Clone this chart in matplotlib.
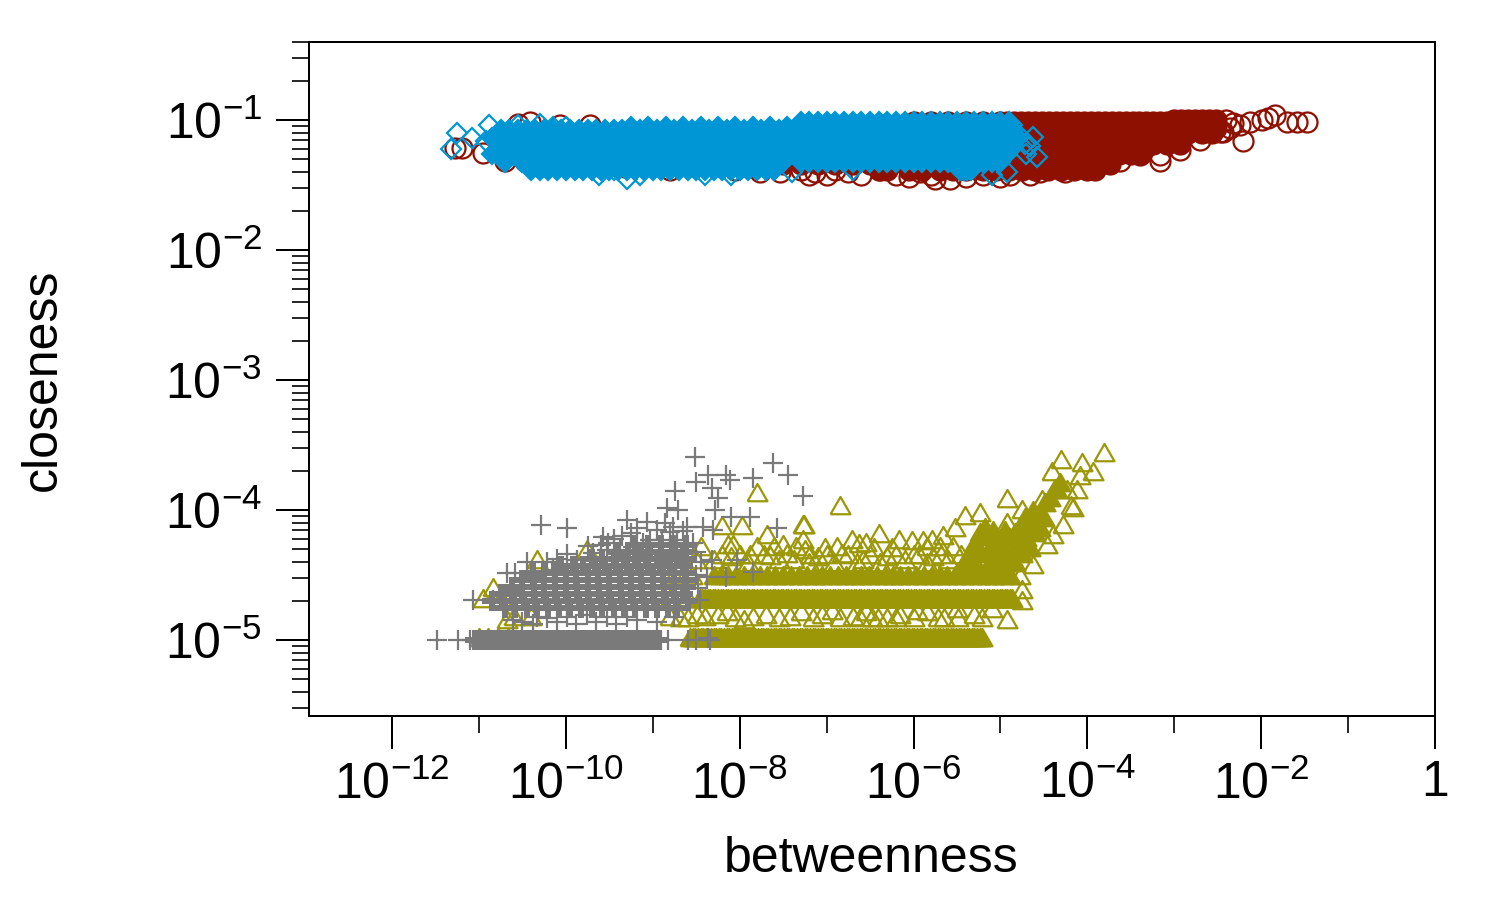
import matplotlib
matplotlib.use("Agg")
import numpy as np
import matplotlib.pyplot as plt

plt.rcParams['font.family'] = ['Liberation Sans', 'DejaVu Sans']
plt.rcParams['mathtext.fontset'] = 'custom'
plt.rcParams['mathtext.rm'] = 'Liberation Sans'
plt.rcParams['mathtext.default'] = 'rm'

# All values are log10(betweenness) and log10(closeness).
RED = '#8E1000'; BLUE = '#0096D6'; OLIVE = '#9C9706'; GRAY = '#7A7A7A'

x_ticks = [-12, -10, -8, -6, -4, -2, 0]
x_tick_labels = ['$10^{-12}$', '$10^{-10}$', '$10^{-8}$', '$10^{-6}$', '$10^{-4}$', '$10^{-2}$', '1']
x_minor = [-11, -9, -7, -5, -3, -1]
y_ticks = [-5, -4, -3, -2, -1]
y_tick_labels = ['$10^{-5}$', '$10^{-4}$', '$10^{-3}$', '$10^{-2}$', '$10^{-1}$']

# dense regions of overlapping marks, listed row by row: (closeness, betweenness values)
red_dense = [
 (-1.015, [-6.0,-5.8,-5.6,-5.4,-5.2,-5.0,-4.92,-4.84,-4.76,-4.68,-4.6,-4.52,-4.44,-4.36,-4.28,-4.2,-4.12,-4.04,-3.96,-3.88,-3.8,-3.72,-3.64,-3.56,-3.48,-3.4,-3.32,-3.24,-3.16,-3.08]),
 (-1.00, [-3.0,-2.92,-2.84,-2.76,-2.68,-2.6,-2.52]),
 (-1.06, [-4.9,-4.75,-4.6,-4.45,-4.3,-4.15,-4.0,-3.85,-3.7,-3.55,-3.4,-3.25,-3.1,-2.95,-2.8,-2.65,-2.52]),
 (-1.10, [-6.0,-5.8,-5.6,-5.4,-5.2,-4.92,-4.76,-4.6,-4.44,-4.28,-4.12,-3.96,-3.8,-3.64,-3.48,-3.32,-3.16,-3.0,-2.84,-2.68,-2.56]),
 (-1.18, [-6.0,-5.8,-5.6,-5.4,-5.2,-5.0,-4.84,-4.68,-4.52,-4.36,-4.2,-4.04,-3.88,-3.72,-3.56,-3.4,-3.24,-3.08,-2.93]),
 (-1.26, [-6.0,-5.8,-5.6,-5.4,-5.2,-4.92,-4.76,-4.6,-4.44,-4.28,-4.12,-3.96,-3.8,-3.64,-3.5,-3.39]),
 (-1.34, [-7.5,-7.3,-7.1,-6.9,-6.7,-6.5,-6.3,-6.1,-5.9,-5.7,-5.5,-5.3,-5.1,-5.0,-4.84,-4.68,-4.52,-4.36,-4.2,-4.05,-3.9,-3.74]),
 (-1.38, [-6.4,-6.3,-6.05,-5.9,-5.7,-5.55,-5.4,-5.2,-5.05,-4.9,-4.75,-4.6,-4.45,-4.3,-4.15,-4.0,-3.91]),
]
red_pts = [(-1.47,-1.015),(-1.585,-1.015),(-1.70,-1.015),(-1.84,-0.96),(-1.92,-0.985),(-1.99,-1.0),(-2.13,-1.015),(-2.24,-1.04),(-2.32,-1.02),(-2.40,-1.00),(-2.36,-1.06),(-2.44,-1.09),
 (-2.21,-1.16),(-2.47,-1.09),(-2.70,-1.15),(-2.93,-1.23),(-3.16,-1.27),(-3.16,-1.31),(-3.39,-1.27),(-3.62,-1.31),(-3.80,-1.33),
 (-3.97,-1.35),(-4.08,-1.37),(-4.26,-1.40),(-4.54,-1.40),(-4.66,-1.42),(-4.89,-1.42),(-5.58,-1.45),(-5.75,-1.45),
 (-11.27,-1.215),(-11.19,-1.215),(-10.95,-1.25),(-10.70,-1.31),(-10.47,-1.31),(-10.55,-1.03),(-10.41,-1.015),(-10.07,-1.04),(-9.72,-1.04),
 (-9.32,-1.36),(-8.80,-1.385),(-8.05,-1.385),(-7.88,-1.35),(-7.77,-1.40),(-7.54,-1.40),(-7.30,-1.385),(-7.13,-1.40),(-6.90,-1.385),
 (-6.38,-1.385),(-5.92,-1.40),(-7.20,-1.42),(-7.00,-1.42),(-6.75,-1.40),(-6.60,-1.42),(-6.20,-1.42),(-6.05,-1.44),(-5.80,-1.42),(-5.40,-1.44),(-5.20,-1.42),(-5.00,-1.44)]

blue_dense = [
 (-1.015, [-7.30,-7.20,-7.10,-7.00,-6.90,-6.80,-6.70,-6.60,-6.50,-6.40,-6.30,-6.20,-6.10,-6.00,-5.90,-5.80,-5.70,-5.60,-5.50,-5.40,-5.30,-5.20,-5.10,-5.00,-4.90]),
 (-1.050, [-9.25,-9.05,-8.85,-8.65,-8.45,-8.25,-8.05,-7.85,-7.65,-7.45]),
 (-1.077, [-10.75,-10.65,-10.55,-10.45,-10.35,-10.25,-10.15,-10.05,-9.95,-9.85,-9.75,-9.65,-9.55,-9.45,-9.35,-9.25,-9.15,-9.05,-8.95,-8.85,-8.75,-8.65,-8.55,-8.45,-8.35,-8.25,-8.15,-8.05,-7.95,-7.85,-7.75,-7.65,-7.55,-7.45,-7.35,-7.20,-7.00,-6.80,-6.60,-6.40,-6.20,-6.00,-5.80,-5.60,-5.40,-5.20,-5.00,-4.85]),
 (-1.138, [-10.85,-10.65,-10.45,-10.25,-10.05,-9.85,-9.65,-9.45,-9.25,-9.05,-8.85,-8.65,-8.45,-8.25,-8.05,-7.85,-7.65,-7.45,-7.30,-7.10,-6.90,-6.70,-6.50,-6.30,-6.10,-5.90,-5.70,-5.50,-5.30,-5.10,-4.92,-4.80]),
 (-1.200, [-10.75,-10.55,-10.35,-10.15,-9.95,-9.75,-9.55,-9.35,-9.15,-8.95,-8.75,-8.55,-8.35,-8.15,-7.95,-7.75,-7.55,-7.35,-7.20,-7.00,-6.80,-6.60,-6.40,-6.20,-6.00,-5.80,-5.60,-5.40,-5.20,-5.00,-4.85]),
 (-1.260, [-10.85,-10.65,-10.45,-10.25,-10.05,-9.85,-9.65,-9.45,-9.25,-9.05,-8.85,-8.65,-8.45,-8.25,-8.05,-7.85,-7.65,-7.45,-7.30,-7.10,-6.90,-6.70,-6.50,-6.30,-6.10,-5.90,-5.70,-5.50,-5.30,-5.10,-4.92]),
 (-1.320, [-10.70,-10.50,-10.30,-10.10,-9.90,-9.70,-9.50,-9.30,-9.10,-8.90,-8.70,-8.50,-8.30,-8.10,-7.90,-7.70,-7.50,-7.30,-7.20,-7.10,-7.00,-6.90,-6.80,-6.70,-6.60,-6.50,-6.40,-6.30,-6.20,-6.10,-6.00,-5.90,-5.80,-5.70,-5.60,-5.50,-5.40,-5.30,-5.20,-5.10,-5.00]),
 (-1.385, [-10.40,-10.30,-10.20,-10.10,-10.00,-9.90,-9.80,-9.70,-9.60,-9.50,-9.40,-9.30,-9.20,-9.10,-9.00,-8.90,-8.80,-8.70,-8.60,-8.50,-8.40,-8.30,-8.20,-8.10,-8.00,-7.90,-7.80,-7.70,-7.60,-5.46,-5.42,-5.38,-5.34]),
]
blue_pts = [(-11.25,-1.10),(-11.32,-1.225),(-11.08,-1.14),(-10.88,-1.04),(-10.92,-1.16),(-10.55,-1.04),(-10.30,-1.03),(-10.15,-1.05),(-10.00,-1.05),
 (-9.62,-1.42),(-9.45,-1.38),(-9.15,-1.42),(-9.30,-1.45),(-8.40,-1.42),(-8.10,-1.42),(-7.40,-1.40),(-6.70,-1.38),(-5.10,-1.42),(-4.93,-1.40),
 (-4.87,-1.04),(-4.78,-1.12),(-4.72,-1.18),(-4.70,-1.26),(-4.66,-1.20),(-4.62,-1.13),(-4.58,-1.28)]

olive_dense = [
 (-5.0, [-8.57,-8.54,-8.51,-8.48,-8.45,-8.42,-8.39,-8.36,-8.33,-8.30,-8.27,-8.24,-8.21,-8.18,-8.15,-8.12,-8.09,-8.06,-8.03,-8.00,-7.97,-7.94,-7.91,-7.88,-7.85,-7.82,-7.79,-7.76,-7.73,-7.70,-7.67,-7.64,-7.61,-7.58,-7.55,-7.52,-7.49,-7.46,-7.43,-7.40,-7.37,-7.34,-7.31,-7.28,-7.25,-7.22,-7.19,-7.16,-7.13,-7.10,-7.07,-7.04,-7.01,-6.98,-6.95,-6.92,-6.89,-6.86,-6.83,-6.80,-6.77,-6.74,-6.71,-6.68,-6.65,-6.62,-6.59,-6.56,-6.53,-6.50,-6.47,-6.44,-6.41,-6.38,-6.35,-6.32,-6.29,-6.26,-6.23,-6.20,-6.17,-6.14,-6.11,-6.08,-6.05,-6.02,-5.99,-5.96,-5.93,-5.90,-5.87,-5.84,-5.81,-5.78,-5.75,-5.72,-5.69,-5.66,-5.63,-5.60,-5.57,-5.54,-5.51,-5.48,-5.45,-5.42,-5.39,-5.36,-5.33,-5.30,-5.27,-5.24,-5.21]),
 (-4.70, [-8.46,-8.43,-8.40,-8.37,-8.34,-8.31,-8.28,-8.25,-8.22,-8.19,-8.16,-8.13,-8.10,-8.07,-8.04,-8.01,-7.98,-7.95,-7.92,-7.89,-7.86,-7.83,-7.80,-7.77,-7.74,-7.71,-7.68,-7.65,-7.62,-7.59,-7.56,-7.53,-7.50,-7.47,-7.44,-7.41,-7.38,-7.35,-7.32,-7.29,-7.26,-7.23,-7.20,-7.17,-7.14,-7.11,-7.08,-7.05,-7.02,-6.99,-6.96,-6.93,-6.90,-6.87,-6.84,-6.81,-6.78,-6.75,-6.72,-6.69,-6.66,-6.63,-6.60,-6.57,-6.54,-6.51,-6.48,-6.45,-6.42,-6.39,-6.36,-6.33,-6.30,-6.27,-6.24,-6.21,-6.18,-6.15,-6.12,-6.09,-6.06,-6.03,-6.00,-5.97,-5.94,-5.91,-5.88,-5.85,-5.82,-5.79,-5.76,-5.73,-5.70,-5.67,-5.64,-5.61,-5.58,-5.55,-5.52,-5.49,-5.46,-5.43,-5.40,-5.37,-5.34,-5.31,-5.28,-5.25,-5.22,-5.19,-5.16,-5.13,-5.10,-5.07,-5.04,-5.01,-4.98,-4.95,-4.92,-4.89,-4.87]),
 (-4.52, [-8.30,-8.22,-8.13,-8.04,-7.95,-7.86,-7.77,-7.68,-7.59,-7.50,-7.41,-7.32,-7.23,-7.14,-7.05,-6.96,-6.87,-6.78,-6.69,-6.60,-6.51,-6.42,-6.33,-6.24,-6.15,-6.06,-5.97,-5.88,-5.79,-5.70,-5.61,-5.52,-5.43,-5.34,-5.25,-5.16,-5.07,-4.98,-4.89]),
]
wedge_pts = [(-5.35,-4.35),(-5.29,-4.27),(-5.23,-4.19),(-5.18,-4.15),(-5.12,-4.31),(-5.0,-4.27),(-4.89,-4.23),(-4.83,-4.19),(-4.77,-4.15),(-4.66,-4.115),
 (-4.54,-4.04),(-4.49,-3.96),(-4.43,-3.92),(-4.37,-3.85),(-4.31,-3.81),(-5.0,-4.42),(-4.83,-4.42),(-4.66,-4.31),(-5.12,-4.42),(-5.29,-4.42),(-4.83,-4.31),(-4.60,-4.19),
 (-5.42,-4.42),(-5.25,-4.35),(-5.15,-4.22),(-5.05,-4.35),(-4.95,-4.35),(-4.90,-4.42),(-4.75,-4.35),(-4.70,-4.23),(-4.55,-4.15),(-4.50,-4.08),(-4.62,-4.02),(-4.72,-4.08),(-4.95,-4.18),(-5.08,-4.18)]
olive_pts = [(-3.81,-3.58),(-4.30,-3.63),(-4.06,-3.65),(-3.93,-3.72),(-4.41,-3.72),(-4.08,-3.75),(-4.12,-3.86),(-4.19,-3.985),(-4.23,-3.86),(-4.35,-3.86),(-4.52,-3.94),
 (-4.92,-3.93),(-4.75,-4.015),(-5.41,-4.06),(-5.23,-4.04),(-4.92,-4.115),(-5.52,-4.15),(-5.66,-4.215),(-5.79,-4.245),(-5.89,-4.25),(-6.02,-4.25),(-6.17,-4.245),(-6.40,-4.20),
 (-6.55,-4.27),(-6.63,-4.28),(-6.71,-4.245),(-6.84,-3.985),(-7.26,-4.13),(-7.02,-4.31),(-4.75,-4.63),(-4.75,-4.715),(-4.92,-4.86),(-5.21,-4.845),(-5.49,-4.845),(-5.72,-4.845),
 (-5.96,-4.79),(-6.20,-4.845),(-6.41,-4.845),(-6.48,-4.845),(-6.61,-4.845),(-6.94,-4.79),(-7.16,-4.845),(-4.77,-4.52),(-4.62,-4.44),(-4.46,-4.285),(-4.39,-4.21),(-4.28,-4.13),(-4.16,-4.0),
 (-7.80,-3.885),(-7.27,-4.13),(-7.27,-4.245),(-7.25,-4.32),(-7.68,-4.21),(-7.97,-4.14),(-8.20,-4.14),(-8.14,-4.285),(-7.88,-4.36),(-7.65,-4.37),(-7.50,-4.285),(-10.33,-4.40),
 (-10.84,-4.615),(-9.76,-4.32),(-10.68,-4.86),(-8.49,-4.82),(-8.69,-4.845),(-8.08,-4.285),(-7.19,-4.36),
 (-8.30,-4.40),(-8.10,-4.38),(-7.90,-4.42),(-7.72,-4.36),(-7.55,-4.40),(-7.38,-4.40),(-7.10,-4.38),(-6.92,-4.42),(-6.75,-4.36),(-6.58,-4.40),(-6.30,-4.38),(-6.10,-4.40),(-5.94,-4.36),
 (-5.77,-4.38),(-5.60,-4.40),(-5.45,-4.36),(-7.60,-4.30),(-7.35,-4.30),(-6.88,-4.30),(-6.45,-4.31),(-6.25,-4.31),(-5.85,-4.30),(-5.70,-4.30),(-8.20,-4.36),(-8.00,-4.36),(-7.80,-4.30),
 (-7.45,-4.35),(-7.20,-4.42),(-7.00,-4.36),(-6.82,-4.35),(-6.65,-4.42),(-6.50,-4.36),(-6.38,-4.42),(-6.20,-4.36),(-6.00,-4.36),(-5.85,-4.42),(-5.68,-4.36),(-5.55,-4.30),
 (-8.40,-4.84),(-8.25,-4.82),(-8.05,-4.85),(-7.85,-4.84),(-7.42,-4.84),(-7.05,-4.82),(-6.70,-4.84),(-6.15,-4.82),(-5.65,-4.85),(-8.60,-4.85),(-8.80,-4.84),(-8.15,-4.80),(-7.95,-4.86),(-7.70,-4.82),
 (-7.55,-4.85),(-7.30,-4.80),(-6.85,-4.85),(-6.55,-4.80),(-6.30,-4.85),(-6.00,-4.85),(-5.85,-4.80),(-5.50,-4.78),(-5.30,-4.82),(-5.10,-4.78),
 (-11.00,-5.0),(-10.90,-5.0),(-10.78,-5.0),(-10.66,-5.0),(-10.95,-4.70),(-10.75,-4.70),(-10.60,-4.84),(-10.40,-4.84),(-8.80,-4.70),(-8.60,-4.70),(-8.75,-4.52),(-8.55,-4.52),(-8.50,-4.40),(-8.45,-4.30)]

gray_dense = [
 (-5.0, [-11.05,-11.00,-10.95,-10.90,-10.85,-10.80,-10.75,-10.70,-10.65,-10.60,-10.55,-10.50,-10.45,-10.40,-10.35,-10.30,-10.25,-10.20,-10.15,-10.10,-10.05,-10.00,-9.95,-9.90,-9.85,-9.80,-9.75,-9.70,-9.65,-9.60,-9.55,-9.50,-9.45,-9.40,-9.35,-9.30,-9.25,-9.20,-9.15,-9.10,-9.05,-9.00,-8.95]),
 (-4.754, [-10.70,-10.58,-10.45,-10.33,-10.20,-10.08,-9.95,-9.83,-9.70,-9.58,-9.45,-9.33,-9.20,-9.08,-8.95,-8.83,-8.72]),
 (-4.700, [-10.85,-10.73,-10.60,-10.48,-10.35,-10.23,-10.10,-9.98,-9.85,-9.73,-9.60,-9.48,-9.35,-9.23,-9.10,-8.98,-8.85,-8.73,-8.60]),
 (-4.646, [-10.75,-10.62,-10.50,-10.37,-10.25,-10.12,-10.00,-9.87,-9.75,-9.62,-9.50,-9.37,-9.25,-9.12,-9.00,-8.87,-8.75,-8.65]),
 (-4.590, [-10.62,-10.50,-10.37,-10.25,-10.12,-10.00,-9.87,-9.75,-9.62,-9.50,-9.37,-9.25,-9.12,-9.00,-8.87,-8.75,-8.62]),
 (-4.540, [-10.50,-10.38,-10.25,-10.13,-10.00,-9.88,-9.75,-9.63,-9.50,-9.38,-9.25,-9.13,-9.00,-8.88,-8.75,-8.63]),
 (-4.485, [-10.38,-10.25,-10.13,-10.00,-9.88,-9.75,-9.63,-9.50,-9.38,-9.25,-9.13,-9.00,-8.88,-8.75,-8.62]),
 (-4.430, [-10.05,-9.92,-9.80,-9.67,-9.55,-9.42,-9.30,-9.17,-9.05,-8.92,-8.80,-8.65]),
 (-4.375, [-9.70,-9.58,-9.45,-9.33,-9.20,-9.08,-8.95,-8.85,-8.72,-8.62]),
 (-4.320, [-9.40,-9.28,-9.15,-9.03,-8.90,-8.78,-8.65]),
 (-4.270, [-9.20,-9.05,-8.90,-8.75,-8.62]),
]
gray_pts = [(-8.51,-3.59),(-8.36,-3.73),(-8.50,-3.785),(-8.16,-3.73),(-8.11,-3.77),(-7.85,-3.75),(-7.62,-3.64),(-7.44,-3.73),(-7.27,-3.89),(-8.74,-3.85),(-8.32,-3.83),(-8.25,-3.91),
 (-8.84,-3.985),(-8.71,-4.0),(-8.28,-4.0),(-8.10,-4.05),(-7.88,-4.05),(-7.57,-4.14),(-10.29,-4.115),(-9.99,-4.14),(-9.30,-4.08),(-9.18,-4.14),(-9.07,-4.09),(-9.57,-4.21),(-9.51,-4.25),
 (-8.86,-4.10),(-8.77,-4.13),(-8.61,-4.13),(-8.42,-4.13),(-8.31,-4.15),(-9.11,-4.25),(-9.03,-4.23),(-8.89,-4.23),(-8.72,-4.23),(-8.54,-4.25),(-9.99,-4.34),(-10.22,-4.40),(-9.87,-4.385),
 (-9.69,-4.33),(-9.53,-4.31),(-9.38,-4.31),(-9.23,-4.285),(-10.68,-4.485),(-10.58,-4.485),(-10.38,-4.515),(-10.15,-4.46),(-11.07,-4.69),(-10.84,-4.69),(-10.61,-4.615),(-10.61,-4.845),
 (-10.33,-4.82),(-10.22,-4.83),(-9.99,-4.82),(-9.76,-4.81),(-9.53,-4.82),(-9.30,-4.82),(-8.46,-4.69),(-8.32,-4.385),(-8.16,-4.515),(-7.85,-4.48),(-8.03,-4.385),(-8.38,-4.515),(-8.36,-4.985),
 (-11.48,-5.0),(-11.24,-5.0),(-11.10,-5.0),(-8.90,-5.0),(-8.82,-5.0),(-8.60,-5.0),(-8.50,-5.0),(-8.34,-5.0),
 (-10.50,-4.86),(-10.38,-4.88),(-10.10,-4.86),(-9.88,-4.88),(-9.65,-4.86),(-9.42,-4.88),(-9.18,-4.85),(-8.95,-4.86),(-8.75,-4.82),(-10.45,-4.40),(-10.10,-4.38),(-9.75,-4.28),(-9.60,-4.27),
 (-9.45,-4.22),(-9.35,-4.20),(-9.25,-4.18),(-8.95,-4.15),(-8.80,-4.17),(-8.65,-4.16),(-8.50,-4.32),(-8.45,-4.40),(-8.50,-4.50),(-8.48,-4.60)]


def xy(e):
    return np.power(10.0, np.asarray(e, dtype=float))


def rows(table):
    xs, ys = [], []
    for y, row in table:
        xs.extend(row)
        ys.extend([y] * len(row))
    return xy(xs), xy(ys)


def pts(pairs):
    a = np.asarray(pairs, dtype=float)
    return xy(a[:, 0]), xy(a[:, 1])


TRI = [(-1, -0.577), (1, -0.577), (0, 1.155), (-1, -0.577)]
MEW = 1.6

fig = plt.figure(figsize=(15, 9), dpi=100)
ax = fig.add_axes([309/1500, 1-716/900, 1126/1500, 674/900])
ax.set_xscale('log'); ax.set_yscale('log')
ax.set_xlim(10**-12.955, 1)
ax.set_ylim(10**-5.585, 10**-0.398)

kw = dict(linestyle='none')
ax.plot(*rows(red_dense), marker='o', ms=14.4, mfc=RED, mec=RED, mew=MEW, **kw)
ax.plot(*pts(red_pts), marker='o', ms=14.4, mfc='none', mec=RED, mew=MEW, **kw)
ax.plot(*rows(olive_dense), marker=TRI, ms=16.6, mfc=OLIVE, mec=OLIVE, mew=MEW, **kw)
ax.plot(*pts(wedge_pts), marker=TRI, ms=16.6, mfc=OLIVE, mec=OLIVE, mew=MEW, **kw)
ax.plot(*pts(olive_pts), marker=TRI, ms=16.6, mfc='none', mec=OLIVE, mew=MEW, **kw)
ax.plot(*rows(blue_dense), marker='D', ms=10.2, mfc=BLUE, mec=BLUE, mew=MEW, **kw)
ax.plot(*pts(blue_pts), marker='D', ms=10.2, mfc='none', mec=BLUE, mew=MEW, **kw)
ax.plot(*rows(gray_dense), marker='P', ms=14.4, mfc=GRAY, mec=GRAY, mew=0, **kw)
ax.plot(*pts(gray_pts), marker='+', ms=14.4, mec=GRAY, mew=MEW, **kw)

for s in ax.spines.values():
    s.set_linewidth(1.44)
ax.set_xticks(xy(x_ticks))
ax.set_xticklabels(x_tick_labels)
ax.set_xticks(xy(x_minor), minor=True)
ax.set_xticklabels([''] * len(x_minor), minor=True)
ax.set_yticks(xy(y_ticks))
ax.set_yticklabels(y_tick_labels)
subs = [np.log10(m) for m in (2, 3, 4, 5, 6, 7, 8, 9)]
y_minor = [d + s for d in (-6, -5, -4, -3, -2, -1) for s in subs]
y_minor = [v for v in y_minor if -5.585 <= v <= -0.39]
ax.set_yticks(xy(y_minor), minor=True)
ax.set_yticklabels([''] * len(y_minor), minor=True)
ax.tick_params(axis='both', which='major', length=24, width=1.44, labelsize=36)
ax.tick_params(axis='both', which='minor', length=12, width=1.2)
ax.tick_params(axis='x', which='major', pad=8)
ax.tick_params(axis='y', which='major', pad=10)

fig.text(871/1500, 1-872/900, 'betweenness', ha='center', va='baseline', fontsize=36)
fig.text(43/1500, 1-380/900, 'closeness', ha='center', va='center', rotation=90, fontsize=36)
fig.savefig('out.png', dpi=100)
